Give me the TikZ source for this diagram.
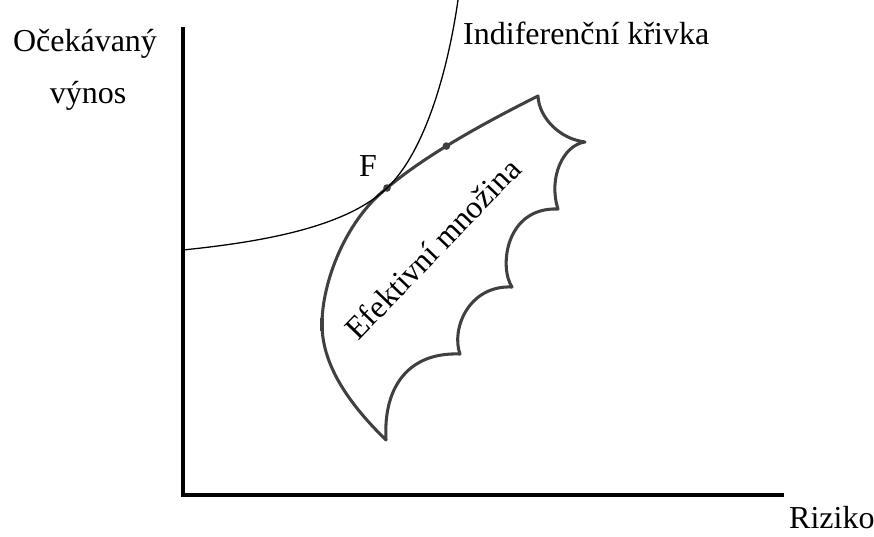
\documentclass[tikz,border=0pt]{standalone}
\usepackage{fontspec}
\setmainfont{Liberation Serif}
\usetikzlibrary{calc}
\definecolor{chartaxis}{HTML}{000000}
\definecolor{chartcurve}{HTML}{000000}
\definecolor{setborder}{HTML}{404040}
\definecolor{charttext}{HTML}{000000}
\tikzset{
  chart axis/.style={
    draw=chartaxis, line width=3.4pt, line cap=butt, line join=miter
  },
  chart curve/.style={
    draw=chartcurve, line width=1.1pt, line cap=round
  },
  chart set/.style={
    draw=setborder, line width=2.6pt, line join=round, line cap=round
  },
  chart label/.style={
    text=charttext, font=\fontsize{27.3}{32}\selectfont, inner sep=0pt
  },
  chart dot/.style={
    circle, fill=setborder, inner sep=0pt, minimum size=6.5pt
  }
}

\begin{document}
\begin{tikzpicture}[x=0.03cm,y=-0.03cm]
  \useasboundingbox (0,0) rectangle (874,537);

  \coordinate (origin) at (183,495);
  \coordinate (ytop) at (183,27);
  \coordinate (xend) at (784,495);

  % axes
  \draw[chart axis] (ytop) -- (origin) -- (xend);

  \node[chart label,anchor=base] (ylabel) at (85,52) {Očekávaný};
  \node[chart label,anchor=base] (ylabeltwo) at (88,104) {výnos};
  \node[chart label,anchor=base west] (xlabel) at (789,528) {Riziko};

  % corners of the efficient set
  \coordinate (toptip) at (538,96);
  \coordinate (righttip) at (585,142);
  \coordinate (notchone) at (558,209);
  \coordinate (notchtwo) at (512,287);
  \coordinate (notchthree) at (460,354);
  \coordinate (bottomtip) at (386,440);
  \coordinate (leftmost) at (322,324);
  \coordinate (tangent) at (387,188);

  \draw[chart set] (toptip)
    .. controls (539,118) and (560,139) .. (righttip)
    .. controls (563,145) and (548,178) .. (notchone)
    .. controls (505,207) and (499,268) .. (notchtwo)
    .. controls (468,285) and (451,330) .. (notchthree)
    .. controls (410,352) and (383,385) .. (bottomtip)
    .. controls (345,400) and (322,362) .. (leftmost)
    .. controls (322,283) and (345,221) .. (tangent)
    .. controls (420,160) and (470,130) .. node[chart dot,pos=0.48] (upperdot) {} (toptip) -- cycle;

  \node[chart dot] (fdot) at (tangent) {};
  \fill[setborder] (319.5,318) rectangle (323.5,331);

  % indifference curve touching the set in F
  \coordinate (curvestart) at (origin |- 0,250);
  \coordinate (curveend) at (458,0);
  \draw[chart curve] (curvestart)
    .. controls (260,242) and (345,228) .. (tangent)
    .. controls (425,152) and (448,70) .. (curveend);

  \node[chart label,anchor=base] (flabel) at (368,176) {F};
  \node[chart label,anchor=base west] (curvelabel) at (463,45) {Indiferenční křivka};
  \node[chart label,anchor=base west,rotate=46] (setlabel) at (358,342) {Efektivní množina};
\end{tikzpicture}
\end{document}
